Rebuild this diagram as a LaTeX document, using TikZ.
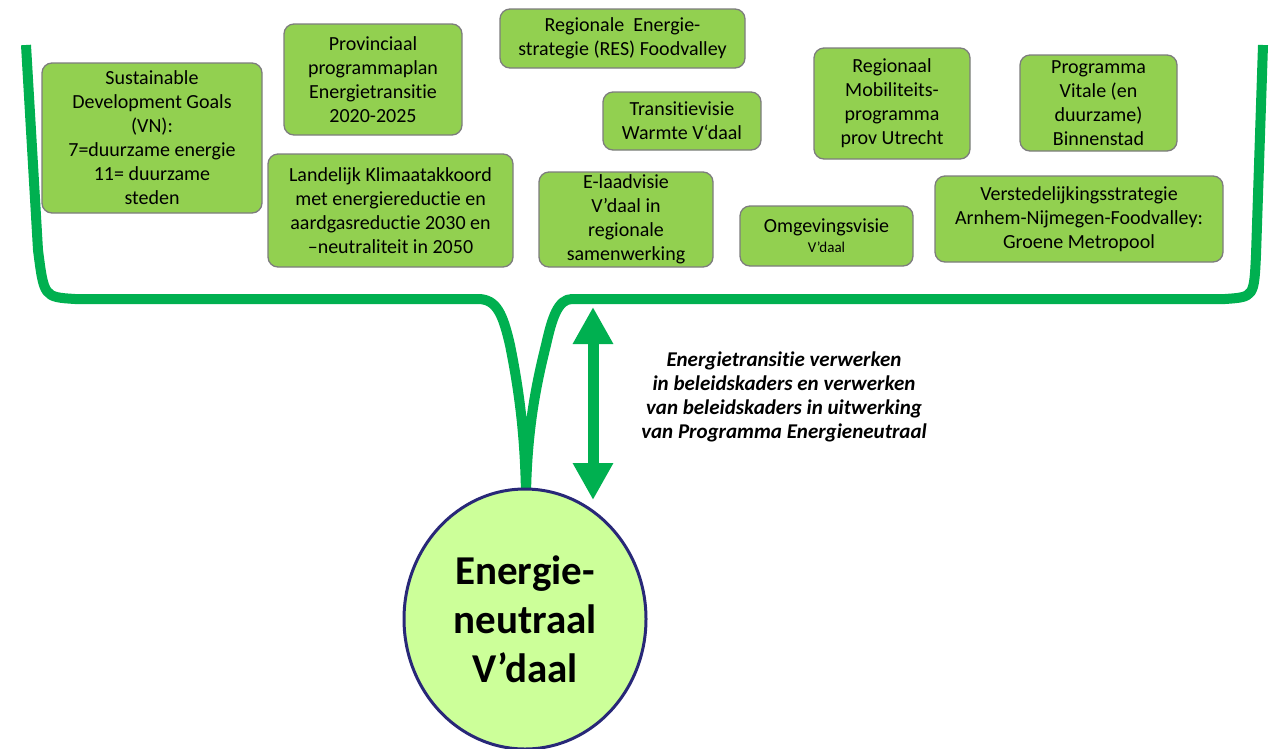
\documentclass[tikz,border=0pt]{standalone}
\usepackage{fontspec}
\setmainfont{Carlito}[Ligatures=NoCommon]
\usepackage{tikz}
\usetikzlibrary{arrows.meta,shapes.geometric}
\definecolor{lijngroen}{RGB}{0,176,80}
\definecolor{vakgroen}{RGB}{146,208,80}
\definecolor{randgrijs}{RGB}{125,125,125}
\definecolor{kerngroen}{RGB}{204,255,153}
\definecolor{randblauw}{RGB}{40,40,120}
\begin{document}
\begin{tikzpicture}[x=1pt,y=-1pt,
                      kom/.style={draw=lijngroen,line width=10pt,line join=round},
                      beleid/.style={draw=randgrijs,fill=vakgroen,line width=1.3pt,rounded corners=10pt,
                        inner sep=0pt,align=center,font=\fontsize{20}{24}\selectfont},
                      wissel/.style={draw=lijngroen,line width=11pt,
                        {Triangle[width=38pt,length=37pt]}-{Triangle[width=38pt,length=37pt]}}]
                      \useasboundingbox (0,0) rectangle (1272,748);
                      % kom met steel
                      \draw[kom] (26,45) -- (38,250) .. controls (44,297) .. (75,299) -- (478,299)
                        .. controls (497,299) and (503,315) .. (510,345)
                        .. controls (518,385) and (525,430) .. (526,495)
                        .. controls (527,430) and (536,385) .. (546,345)
                        .. controls (552,318) and (558,299) .. (572,299)
                        -- (1225,299) .. controls (1254,297) .. (1256,255) -- (1263,45);
                      % beleidskaders
                      \node[beleid,minimum width=220,minimum height=150](sdg)at(152,138){Sustainable\\Development Goals\\(VN):\\7=duurzame energie\\11= duurzame\\steden};
                      \node[beleid,minimum width=178,minimum height=111](prov)at(373,79.5){Provinciaal\\programmaplan\\Energietransitie\\2020-2025};
                      \node[beleid,minimum width=245,minimum height=113](klimaat)at(390.5,210.5){Landelijk Klimaatakkoord\\met energiereductie en\\aardgasreductie 2030 en\\–neutraliteit in 2050};
                      \node[beleid,minimum width=245,minimum height=59](res)at(622.5,38.5){Regionale\ \ Energie-\\strategie (RES) Foodvalley};
                      \node[beleid,minimum width=158,minimum height=58](warmte)at(682,121){Transitievisie\\Warmte V‘daal};
                      \node[beleid,minimum width=174,minimum height=95](elaad)at(626,219.5){E-laadvisie\\V’daal in\\regionale\\samenwerking};
                      \node[beleid,minimum width=173,minimum height=60](omgeving)at(826.5,236){Omgevingsvisie\\[-4pt]{\fontsize{15}{18}\selectfont V’daal}};
                      \node[beleid,minimum width=156,minimum height=111](mobiliteit)at(892,103.5){Regionaal\\Mobiliteits-\\programma\\prov Utrecht};
                      \node[beleid,minimum width=157,minimum height=96](vitale)at(1098.5,103){Programma\\Vitale (en\\duurzame)\\Binnenstad};
                      \node[beleid,minimum width=288,minimum height=86](verstedelijking)at(1079,219){Verstedelijkingsstrategie\\Arnhem-Nijmegen-Foodvalley:\\Groene Metropool};
                      % programma
                      \node[ellipse,draw=randblauw,fill=kerngroen,line width=3pt,minimum width=242,minimum height=260,
                        inner sep=0pt,align=center,font=\bfseries\fontsize{41}{49}\selectfont](programma)at(525,619){Energie-\\neutraal\\V’daal};
                      \coordinate(boven)at(593,307);
                      \coordinate(onder)at(593,500);
                      \draw[wissel](boven)--(onder);
                      \node[align=center,font=\bfseries\itshape\fontsize{21}{24}\selectfont](uitleg)at(784,397){Energietransitie verwerken\\in beleidskaders en verwerken\\van beleidskaders in uitwerking\\van Programma Energieneutraal};
                  \end{tikzpicture}
\end{document}
